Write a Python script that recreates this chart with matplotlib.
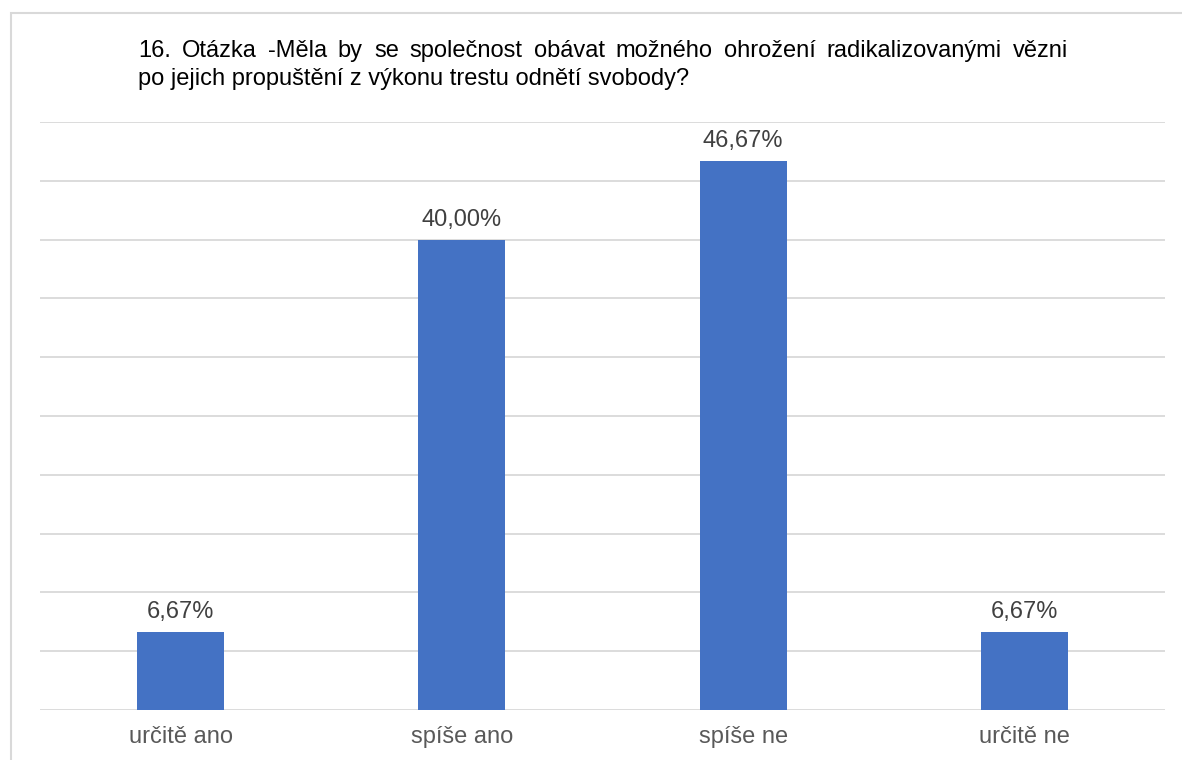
import numpy as np
import matplotlib
matplotlib.use("Agg")
from matplotlib import pyplot as plt
from matplotlib.patches import Rectangle

categories = ["určitě ano", "spíše ano", "spíše ne", "určitě ne"]
values = [6.67, 40.00, 46.67, 6.67]
labels = ["6,67%", "40,00%", "46,67%", "6,67%"]
title_line1 = "16. Otázka -Měla by se společnost obávat možného ohrožení radikalizovanými vězni"
title_line2 = "po jejich propuštění z výkonu trestu odnětí svobody?"

plt.rcParams['font.family'] = ['Liberation Sans', 'DejaVu Sans']

W, H = 1182, 760
fig = plt.figure(figsize=(W / 100, H / 100), dpi=100)
ax = fig.add_axes([40 / W, 1 - 710 / H, 1125 / W, (710 - 122) / H])

x = np.arange(len(categories))
ax.bar(x, values, width=0.31, color="#4472C4", zorder=3)
ax.set_xlim(-0.5, len(categories) - 0.5)
ax.set_ylim(0, 50)
ax.set_yticks(np.arange(0, 51, 5))
ax.yaxis.grid(True, color="#d9d9d9", linewidth=1.3, zorder=0)
ax.tick_params(axis='y', left=False, labelleft=False)
ax.tick_params(axis='x', bottom=False, labelsize=17, labelcolor="#595959", pad=8)
ax.set_xticks(x)
ax.set_xticklabels(categories)
for s in ax.spines.values():
    s.set_visible(False)

for xi, v, lab in zip(x, values, labels):
    ax.annotate(lab, (xi, v), xytext=(0, 10), textcoords="offset points",
                ha="center", va="baseline", fontsize=17, color="#404040")

# outer frame
fig.patches.append(Rectangle((11 / W, -0.1), 1.2, 1 - 13 / H + 0.1, transform=fig.transFigure,
                             fill=False, edgecolor="#d9d9d9", linewidth=1.5))

# title, first line justified between x=138 and x=1068
renderer = fig.canvas.get_renderer()
words = title_line1.split(" ")
ty1 = 1 - 57 / H
texts = [fig.text(0, ty1, w, fontsize=17, color="black", va="baseline") for w in words]
widths = [t.get_window_extent(renderer).width for t in texts]
gap = (1068 - 138 - sum(widths)) / (len(words) - 1)
pos = 138
for t, w in zip(texts, widths):
    t.set_x(pos / W)
    pos += w + gap
fig.text(138 / W, 1 - 85 / H, title_line2, fontsize=17, color="black", va="baseline")

fig.savefig("out.png", dpi=100)
